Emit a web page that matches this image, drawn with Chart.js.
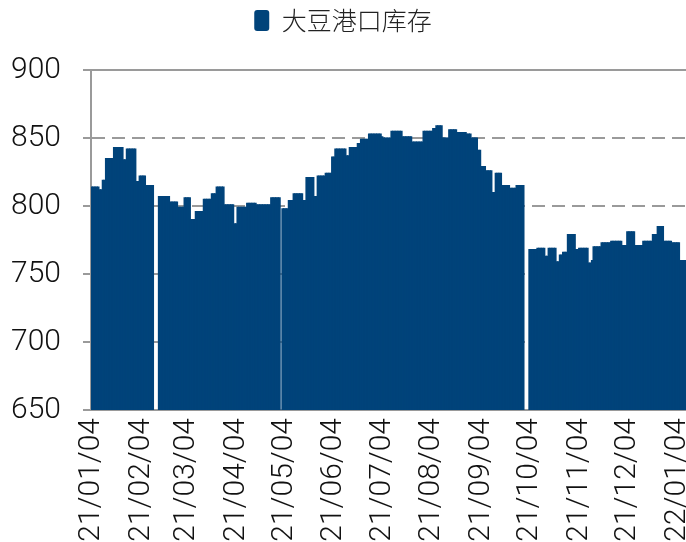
<!DOCTYPE html>
<html>
<head>
<meta charset="utf-8">
<script src="https://cdn.jsdelivr.net/npm/chart.js@4.4.0/dist/chart.umd.min.js"></script>
<style>
	html, body { margin: 0; padding: 0; background: #fff; }
	#wrap { width: 686px; height: 542px; }
</style>
</head>
<body>
<div id="wrap"><canvas id="canvas1" width="686" height="542"></canvas></div>
<script>
// first day on the axis, one bar per calendar day
var startDate = [2021, 0, 4];
var dayCount = 371;

var monthTicks = ['21/01/04', '21/02/04', '21/03/04', '21/04/04', '21/05/04', '21/06/04', '21/07/04',
	'21/08/04', '21/09/04', '21/10/04', '21/11/04', '21/12/04', '22/01/04'];

var yTicks = [650, 700, 750, 800, 850, 900];

var seriesName = '大豆港口库存';

// daily values, null = holiday gap
var inventory = [
	// 21/01/04 - 21/02/11
	814, 814, 814, 814, 814, 812, 812, 819, 819, 835, 835, 835, 835, 835,
	843, 843, 843, 843, 843, 843, 834, 834, 842, 842, 842, 842, 842, 842,
	818, 818, 822, 822, 822, 822, 815, 815, 815, 815, 815,
	// spring festival
	null, null, null,
	// 21/02/15 - 21/05/02
	807, 807, 807, 807, 807, 807, 807, 803, 803, 803, 803, 803,
	799, 799, 799, 799, 806, 806, 806, 806, 790, 790, 790,
	796, 796, 796, 796, 796, 805, 805, 805, 805, 805, 809, 809, 809,
	814, 814, 814, 814, 814, 801, 801, 801, 801, 801, 801, 787, 787,
	799, 799, 799, 799, 799, 799, 802, 802, 802, 802, 802, 802,
	801, 801, 801, 801, 801, 801, 801, 801, 801, 806, 806, 806, 806, 806, 806,
	null,
	// 21/05/04 - 21/09/30
	798, 798, 798, 798, 804, 804, 804, 809, 809, 809, 809, 809, 809, 804, 804,
	821, 821, 821, 821, 821, 807, 807, 822, 822, 822, 822, 822, 824, 824, 824, 824,
	836, 836, 842, 842, 842, 842, 842, 842, 842, 837, 837, 843, 843, 843, 843, 843,
	846, 846, 849, 849, 849, 849, 849, 853, 853, 853, 853, 853, 853, 853, 853, 851,
	850, 850, 850, 850, 850, 855, 855, 855, 855, 855, 855, 855,
	851, 851, 851, 851, 851, 851, 847, 847, 847, 847, 847, 847, 847,
	855, 855, 855, 855, 855, 855, 857, 857, 859, 859, 859, 859, 850, 850, 850, 850,
	856, 856, 856, 856, 856, 854, 854, 854, 854, 854, 854, 853, 853, 853,
	850, 850, 850, 850, 841, 841, 829, 829, 829, 826, 826, 826, 826, 810, 810,
	824, 824, 824, 824, 815, 815, 815, 815, 815, 813, 813, 813, 813, 815, 815, 815, 815, 815,
	// national day
	null, null, null,
	// 21/10/04 - 22/01/09
	768, 768, 768, 768, 768, 769, 769, 769, 769, 769, 763, 763, 769, 769, 769, 769, 769,
	759, 759, 764, 764, 766, 766, 766, 779, 779, 779, 779, 779, 768, 768,
	769, 769, 769, 769, 769, 769, 758, 758, 760, 770, 770, 770, 770, 770,
	773, 773, 773, 773, 773, 773, 774, 774, 774, 774, 774, 774, 774, 771, 771, 771,
	781, 781, 781, 781, 781, 771, 771, 771, 771, 771, 774, 774, 774, 774, 774, 774,
	779, 779, 779, 785, 785, 785, 785, 774, 774, 774, 774, 774, 773, 773, 773, 773, 773,
	760, 760, 760, 760
];

function pad2(n) {
	return (n < 10 ? '0' : '') + n;
}

var dayLabels = new Array();
for (var i = 0; i < dayCount; i++) {
	var dt = new Date(startDate[0], startDate[1], startDate[2] + i);
	dayLabels.push(pad2(dt.getFullYear() % 100) + '/' + pad2(dt.getMonth() + 1) + '/' + pad2(dt.getDate()));
}

var navy = '#00437a';
var gridGray = '#9a9a9a';
var tickFont = { family: 'Roboto, "Liberation Sans", sans-serif', size: 30, weight: 300 };
var plotTop = 70;

// legend keeps its item at the top but reserves room down to the plot
var legendSpace = {
	id: 'legendSpace',
	beforeLayout: function(chart) {
		var lg = chart.legend;
		if (lg && !lg._spacePatched) {
			var fit = lg.fit;
			lg.fit = function() {
				fit.call(this);
				this.height = plotTop;
			};
			lg._spacePatched = true;
		}
	}
};

// solid line on the 900 level, the other levels are dashed
var topLine = {
	id: 'topLine',
	beforeDatasetsDraw: function(chart) {
		var a = chart.chartArea;
		var y = chart.scales.y.getPixelForValue(yTicks[yTicks.length - 1]);
		var ctx = chart.ctx;
		ctx.save();
		ctx.strokeStyle = gridGray;
		ctx.lineWidth = 2;
		ctx.beginPath();
		ctx.moveTo(a.left, y);
		ctx.lineTo(a.right, y);
		ctx.stroke();
		ctx.restore();
	}
};

var ctx = document.getElementById('canvas1').getContext('2d');
window.myBar = new Chart(ctx, {
	type: 'bar',
	data: {
		labels: dayLabels,
		datasets: [{
			label: seriesName,
			backgroundColor: navy,
			borderWidth: 0,
			inflateAmount: 0.5,
			barPercentage: 1,
			categoryPercentage: 1,
			data: inventory
		}]
	},
	plugins: [legendSpace, topLine],
	options: {
		responsive: false,
		devicePixelRatio: 1,
		animation: false,
		layout: { padding: 0 },
		plugins: {
			tooltip: { enabled: false },
			legend: {
				position: 'top',
				labels: {
					boxWidth: 15,
					boxHeight: 21,
					useBorderRadius: true,
					borderRadius: 3,
					padding: 8,
					color: '#222',
					font: { family: '"Noto Sans CJK SC", sans-serif', size: 25, weight: 300 }
				}
			}
		},
		scales: {
			x: {
				grid: { display: false, drawTicks: false },
				border: { display: true, color: gridGray, width: 2 },
				ticks: {
					autoSkip: false,
					minRotation: 90,
					maxRotation: 90,
					padding: 8,
					color: '#111',
					font: tickFont,
					callback: function(value, index) {
						var lab = dayLabels[index];
						return monthTicks.indexOf(lab) >= 0 ? lab : '';
					}
				},
				afterFit: function(scale) {
					scale.height = 132;
					scale.paddingLeft = 0;
					scale.paddingRight = 0;
				}
			},
			y: {
				min: yTicks[0],
				max: yTicks[yTicks.length - 1],
				grid: {
					color: gridGray,
					lineWidth: 2,
					tickLength: 8,
					tickColor: gridGray
				},
				border: { display: true, color: gridGray, width: 2, dash: [13, 7] },
				ticks: {
					stepSize: 50,
					padding: 22,
					color: '#111',
					font: tickFont
				},
				afterFit: function(scale) {
					scale.width = 91;
					scale.paddingTop = 0;
				}
			}
		}
	}
});
</script>
</body>
</html>
